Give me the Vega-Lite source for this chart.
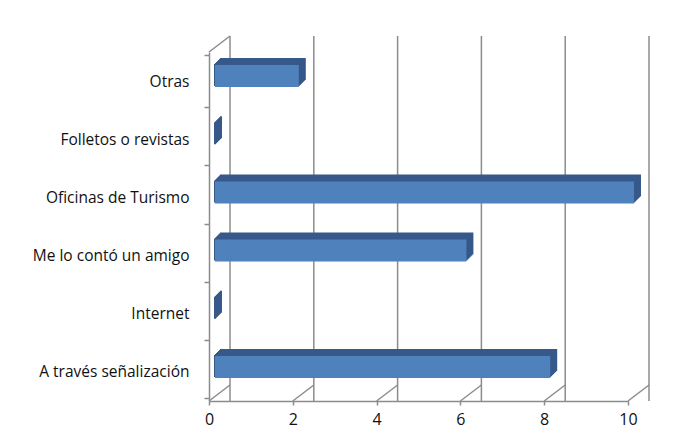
{
  "$schema": "https://vega.github.io/schema/vega-lite/v6.json",
  "width": 419,
  "height": 349,
  "autosize": "none",
  "padding": {"left": 209, "top": 52, "right": 51, "bottom": 40},
  "background": "white",
  "config": {"view": {"stroke": null}, "font": "Open Sans"},
  "datasets": {
    "bars": [
      {"cat": "Otras", "value": 2},
      {"cat": "Folletos o revistas", "value": 0},
      {"cat": "Oficinas de Turismo", "value": 10},
      {"cat": "Me lo contó un amigo", "value": 6},
      {"cat": "Internet", "value": 0},
      {"cat": "A través señalización", "value": 8}
    ],
    "grid": [{"v": 0}, {"v": 2}, {"v": 4}, {"v": 6}, {"v": 8}, {"v": 10}],
    "floor": [
      {"v": 0, "lvl": 0}, {"v": 2, "lvl": 0}, {"v": 4, "lvl": 0},
      {"v": 6, "lvl": 0}, {"v": 8, "lvl": 0}, {"v": 10, "lvl": 0},
      {"v": 0, "lvl": 1}
    ]
  },
  "layer": [
    {
      "data": {"name": "grid"},
      "mark": {"type": "rule", "color": "#8c8c8c", "strokeWidth": 1.5, "xOffset": 21, "yOffset": -16, "y2Offset": -16},
      "encoding": {
        "x": {
          "field": "v", "type": "quantitative",
          "scale": {"domain": [0, 10], "nice": false, "zero": true},
          "axis": {
            "values": [0, 2, 4, 6, 8, 10], "grid": false, "title": null,
            "domainColor": "#8c8c8c", "domainWidth": 1.5, "tickColor": "#8c8c8c", "tickWidth": 1.5,
            "tickSize": 4, "labelFontSize": 16, "labelColor": "#111111", "labelPadding": 6,
            "labelFlush": false, "labelFont": "Open Sans"
          }
        }
      }
    },
    {
      "data": {"name": "floor"},
      "mark": {"type": "rule", "color": "#8c8c8c", "strokeWidth": 1.5, "x2Offset": 21, "y2Offset": -16},
      "encoding": {
        "x": {"field": "v", "type": "quantitative"},
        "x2": {"field": "v"},
        "y": {"field": "lvl", "type": "quantitative", "scale": {"domain": [0, 1], "nice": false}, "axis": null},
        "y2": {"field": "lvl"}
      }
    },
    {"data": {"name": "bars"}, "mark": {"type": "bar", "color": "#36598a", "size": 22, "xOffset": 13, "x2Offset": 11, "yOffset": -12},
     "encoding": {"y": {"field": "cat", "type": "nominal", "sort": null, "axis": null}, "x": {"field": "value", "type": "quantitative"}, "x2": {"datum": 0}}},
    {"data": {"name": "bars"}, "mark": {"type": "bar", "color": "#36598a", "size": 22, "xOffset": 12, "x2Offset": 10, "yOffset": -11},
     "encoding": {"y": {"field": "cat", "type": "nominal", "sort": null, "axis": null}, "x": {"field": "value", "type": "quantitative"}, "x2": {"datum": 0}}},
    {"data": {"name": "bars"}, "mark": {"type": "bar", "color": "#36598a", "size": 22, "xOffset": 11, "x2Offset": 9, "yOffset": -10},
     "encoding": {"y": {"field": "cat", "type": "nominal", "sort": null, "axis": null}, "x": {"field": "value", "type": "quantitative"}, "x2": {"datum": 0}}},
    {"data": {"name": "bars"}, "mark": {"type": "bar", "color": "#36598a", "size": 22, "xOffset": 10, "x2Offset": 8, "yOffset": -9},
     "encoding": {"y": {"field": "cat", "type": "nominal", "sort": null, "axis": null}, "x": {"field": "value", "type": "quantitative"}, "x2": {"datum": 0}}},
    {"data": {"name": "bars"}, "mark": {"type": "bar", "color": "#36598a", "size": 22, "xOffset": 9, "x2Offset": 7, "yOffset": -8},
     "encoding": {"y": {"field": "cat", "type": "nominal", "sort": null, "axis": null}, "x": {"field": "value", "type": "quantitative"}, "x2": {"datum": 0}}},
    {"data": {"name": "bars"}, "mark": {"type": "bar", "color": "#36598a", "size": 22, "xOffset": 8, "x2Offset": 6, "yOffset": -7},
     "encoding": {"y": {"field": "cat", "type": "nominal", "sort": null, "axis": null}, "x": {"field": "value", "type": "quantitative"}, "x2": {"datum": 0}}},
    {"data": {"name": "bars"}, "mark": {"type": "bar", "color": "#36598a", "size": 22, "xOffset": 7, "x2Offset": 5, "yOffset": -6},
     "encoding": {"y": {"field": "cat", "type": "nominal", "sort": null, "axis": null}, "x": {"field": "value", "type": "quantitative"}, "x2": {"datum": 0}}},
    {
      "data": {"name": "bars"},
      "mark": {"type": "bar", "color": "#4f81bd", "size": 22, "xOffset": 6, "x2Offset": 6, "yOffset": -5},
      "encoding": {
        "y": {
          "field": "cat", "type": "nominal", "sort": null,
          "axis": {
            "orient": "left", "title": null, "tickBand": "extent",
            "domainColor": "#8c8c8c", "domainWidth": 1.5, "tickColor": "#8c8c8c", "tickWidth": 1.5,
            "tickSize": 5, "labelFontSize": 15.5, "labelColor": "#111111", "labelPadding": 15, "labelFont": "Open Sans"
          }
        },
        "x": {"field": "value", "type": "quantitative"},
        "x2": {"datum": 0}
      }
    }
  ],
  "resolve": {"scale": {"y": "independent"}, "axis": {"y": "independent"}}
}
